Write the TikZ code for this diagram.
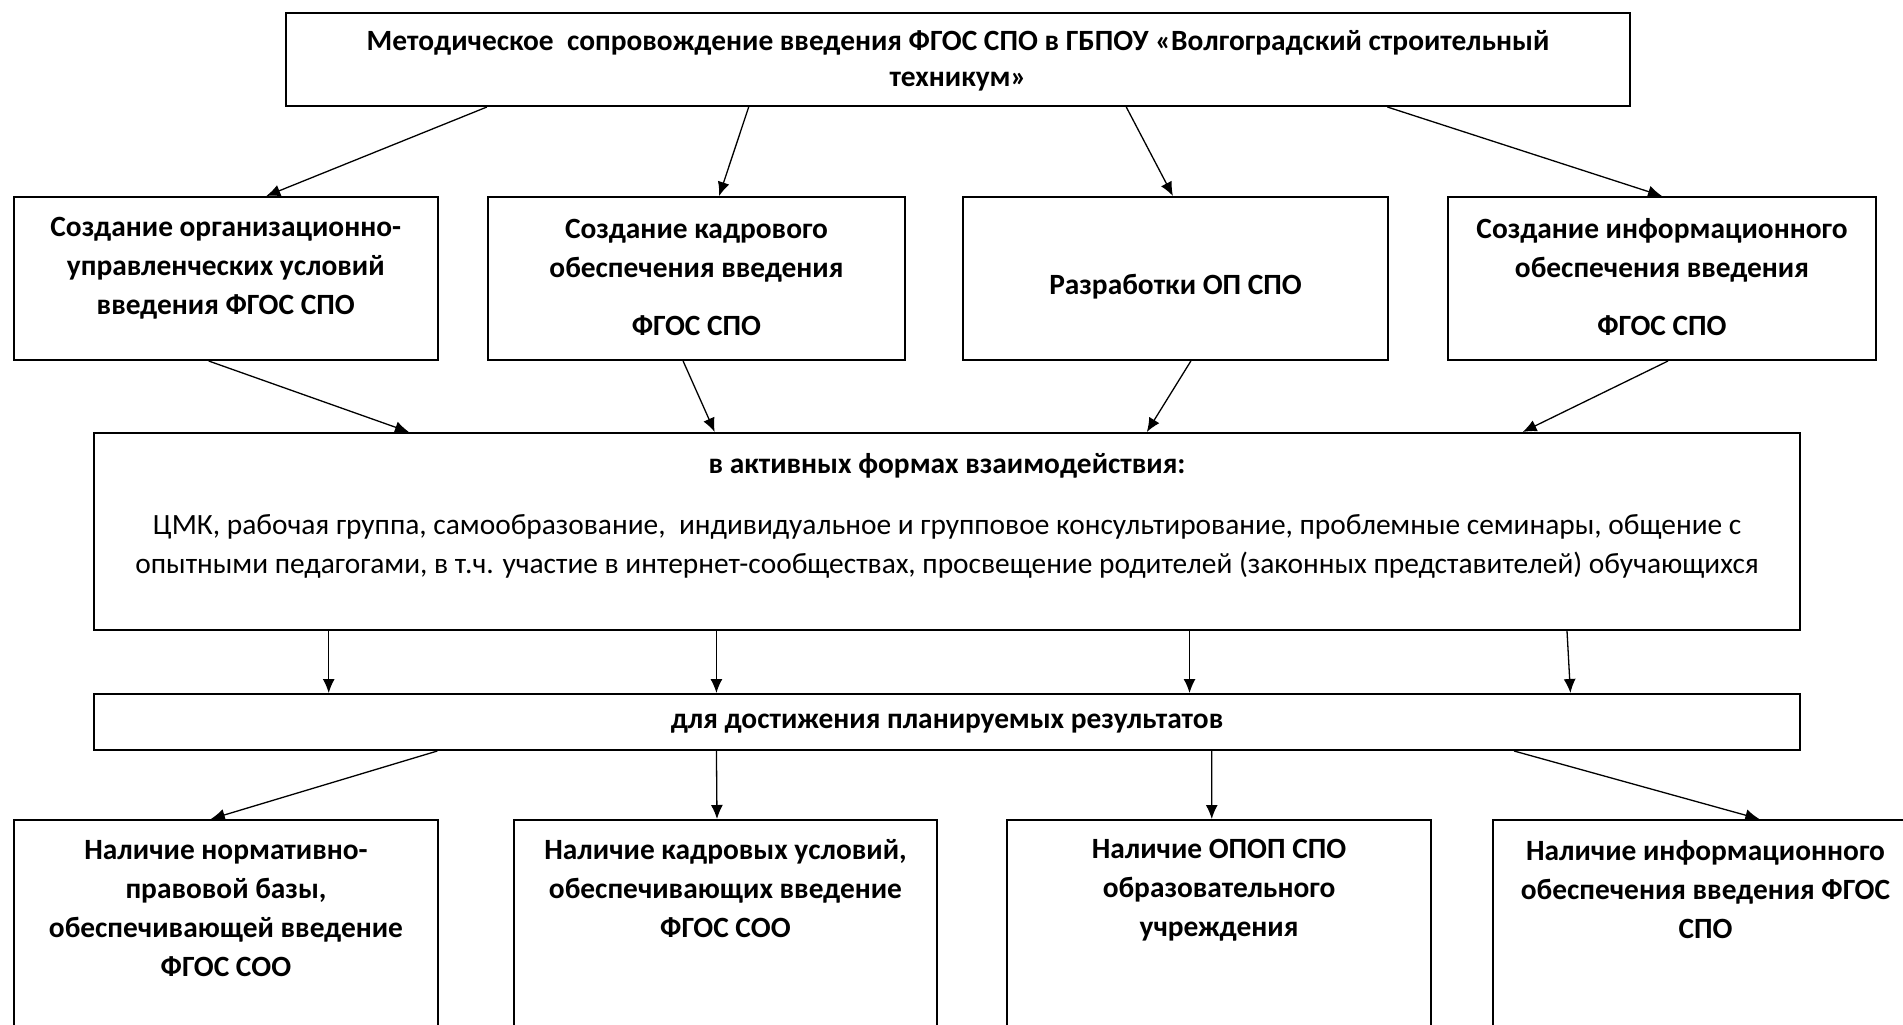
\documentclass[tikz,border=0pt]{standalone}
\usepackage{fontspec}
\setmainfont{Carlito}
\usetikzlibrary{arrows.meta,fit,calc}
\tikzset{
  box/.style={draw, line width=1pt, inner sep=0pt},
  txt/.style={align=center, inner sep=0pt, font=\fontsize{14.7}{19.5}\selectfont\bfseries},
  plain/.style={align=center, inner sep=0pt, font=\fontsize{14.7}{19.5}\selectfont},
  arr/.style={line width=0.65pt, -{Latex[length=7pt,width=6pt]}}
}
\begin{document}
\begin{tikzpicture}[x=0.5pt, y=-0.5pt]
\useasboundingbox (0,0) rectangle (1903,1024);
\clip (0,0) rectangle (1903,1024);
% top
\node[box, fit={(286,13) (1630,106)}] (top) {};
\node[txt, font=\fontsize{14.7}{18}\selectfont\bfseries] (ttop) at (958,61) {Методическое\ \ сопровождение введения ФГОС СПО в ГБПОУ «Волгоградский строительный\\техникум»};
% first row
\node[box, fit={(13.5,197) (438,360)}] (org) {};
\node[box, fit={(488,197) (905,360)}] (kadr) {};
\node[box, fit={(963,197) (1388,360)}] (razr) {};
\node[box, fit={(1448,197) (1876,360)}] (info) {};
\node[txt] (torg) at (225.75,268.5) {Создание организационно-\\управленческих условий\\введения ФГОС СПО};
\node[txt] (tkadr) at (696.5,277.5) {Создание кадрового\\обеспечения введения\\[9.5pt]ФГОС СПО};
\node[txt] (trazr) at (1175.5,287) {Разработки ОП СПО};
\node[txt] (tinfo) at (1662,277.5) {Создание информационного\\обеспечения введения\\[9.5pt]ФГОС СПО};
% forms
\node[box, fit={(94,433) (1800,630)}] (forms) {};
\node[plain] (tforms) at (947,515.5) {\textbf{в активных формах взаимодействия:}\\[11pt]ЦМК, рабочая группа, самообразование,\ \ индивидуальное и групповое консультирование, проблемные семинары, общение с\\опытными педагогами, в т.ч. участие в интернет-сообществах, просвещение родителей (законных представителей) обучающихся};
% goal
\node[box, fit={(94,694) (1800,750)}] (goal) {};
\node[txt] (tgoal) at (947,724) {для достижения планируемых результатов};
% results
\node[box, fit={(13.5,820) (438,1100)}] (norm) {};
\node[box, fit={(514,820) (937,1100)}] (kusl) {};
\node[box, fit={(1007,820) (1431,1100)}] (opop) {};
\node[box, fit={(1493,820) (1918,1100)}] (iobe) {};
\node[txt] (tnorm) at (226,908.5) {Наличие нормативно-\\правовой базы,\\обеспечивающей введение\\ФГОС СОО};
\node[txt] (tkusl) at (725.5,889) {Наличие кадровых условий,\\обеспечивающих введение\\ФГОС СОО};
\node[txt] (topop) at (1219,890) {Наличие ОПОП СПО\\образовательного\\учреждения};
\node[txt] (tiobe) at (1705.5,890) {Наличие информационного\\обеспечения введения ФГОС\\СПО};
% arrows
\foreach \a/\n/\b in {0.150/org/0.595, 0.3445/kadr/0.554, 0.625/razr/0.494, 0.819/info/0.5}
  \draw[arr] ($(top.south west)!\a!(top.south east)$) -- ($(\n.north west)!\b!(\n.north east)$);
\foreach \n/\a/\b in {org/0.46/0.185, kadr/0.468/0.364, razr/0.536/0.617, info/0.514/0.837}
  \draw[arr] ($(\n.south west)!\a!(\n.south east)$) -- ($(forms.north west)!\b!(forms.north east)$);
\foreach \a/\b in {0.138/0.138, 0.365/0.365, 0.642/0.642, 0.863/0.865}
  \draw[arr] ($(forms.south west)!\a!(forms.south east)$) -- ($(goal.north west)!\b!(goal.north east)$);
\foreach \a/\n/\b in {0.2016/norm/0.465, 0.365/kusl/0.48, 0.655/opop/0.483, 0.832/iobe/0.626}
  \draw[arr] ($(goal.south west)!\a!(goal.south east)$) -- ($(\n.north west)!\b!(\n.north east)$);
\end{tikzpicture}
\end{document}
